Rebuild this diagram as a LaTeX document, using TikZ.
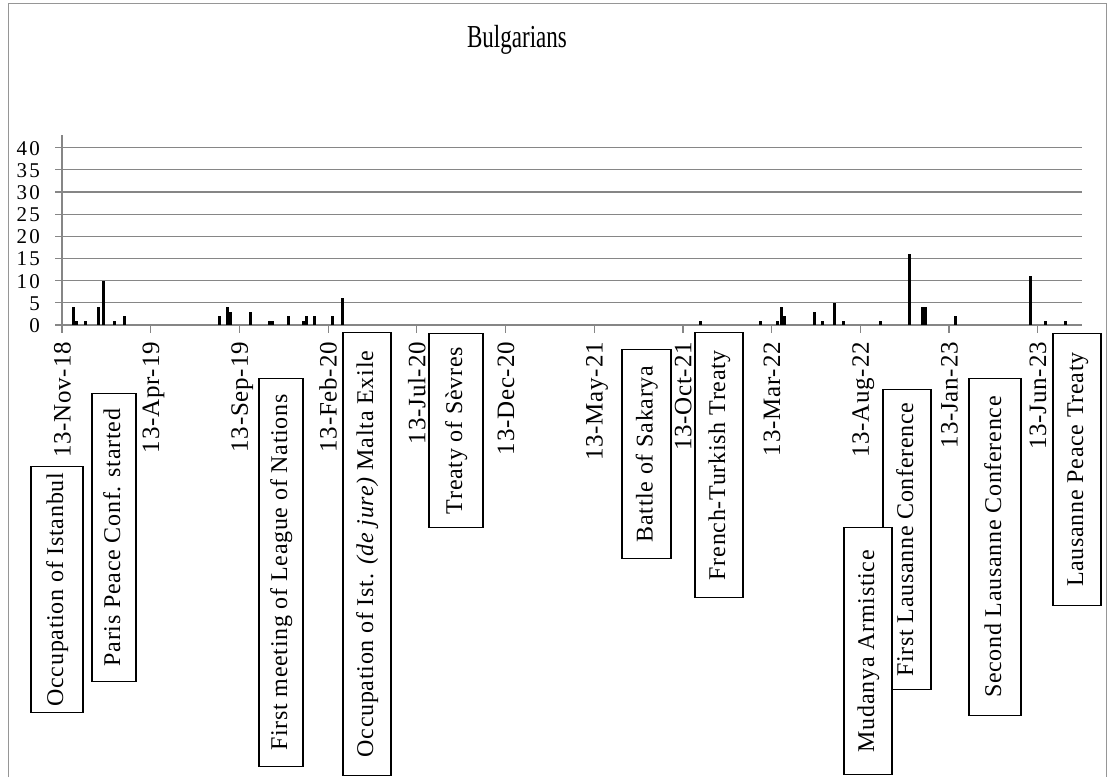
\documentclass[tikz,border=0pt]{standalone}
\usepackage{fontspec}
\usepackage{graphicx}
\setmainfont{Liberation Serif}[LetterSpace=3]
\definecolor{gridgray}{RGB}{134,134,134}
\definecolor{framegray}{RGB}{150,150,150}
\begin{document}
\begin{tikzpicture}[
  x=1pt, y=-1pt,
  font=\fontsize{25}{25}\selectfont,
  grid/.style={draw=gridgray, line width=1.2pt},
  datelabel/.style={rotate=90, anchor=east, inner sep=0pt, text height=16pt, text depth=5pt},
  vallabel/.style={anchor=east, inner sep=0pt, text height=15pt, text depth=0pt,
    font=\fontsize{21}{21}\selectfont\addfontfeature{LetterSpace=10}},
  event/.style={rectangle, draw, fill=white, line width=1.2pt, rotate=90, anchor=east, inner sep=0pt,
    minimum height=48pt, text height=17pt, text depth=5pt, font=\fontsize{24}{24}\selectfont}
]
\useasboundingbox (0,0) rectangle (1109,777);
\draw[framegray, line width=1pt] (8,777) -- (8,3) -- (1106,3) -- (1106,777);

\node[font=\fontsize{32}{32}\selectfont\addfontfeature{LetterSpace=0}] (title) at (517,40) {\scalebox{0.72}[1]{Bulgarians}};

% Grid and value axis
\foreach \v in {0,5,...,40} {
  \draw[grid] (55,{325-4.434*\v}) -- (1082,{325-4.434*\v});
  \node[vallabel] (val\v) at (40,{325-4.434*\v}) {\v};
}
\draw[grid] (62,135) -- (62,325);

% Date axis
\foreach \d [count=\i from 0] in {13-Nov-18,13-Apr-19,13-Sep-19,13-Feb-20,13-Jul-20,13-Dec-20,
    13-May-21,13-Oct-21,13-Mar-22,13-Aug-22,13-Jan-23,13-Jun-23} {
  \draw[grid] ({62+88.7*\i},325) -- ({62+88.7*\i},333);
  \node[datelabel] (date\i) at ({65+88.7*\i},342) {\d};
}

% Bars
\foreach \x/\v in {73.5/4, 76.5/1, 85.5/1, 98/4, 103.3/10, 114.7/1, 124.7/2,
    219.3/2, 227.8/4, 230.5/3, 250.5/3, 269.3/1, 272.7/1, 288.8/2, 303.5/1, 306.5/2,
    314.8/2, 332.8/2, 342.3/6,
    700.7/1, 760.7/1, 777.5/1, 781.3/4, 784/2, 814/3, 822/1, 834/5, 843.3/1, 880/1,
    909.7/16, 922/4, 925/4, 955.3/2, 1030.7/11, 1045.3/1, 1065.3/1}
  \fill ({\x-1.5},325) rectangle ({\x+1.5},{325-4.434*\v});

% Events
\node[event, minimum width=246pt, minimum height=52pt] (istanbul) at (57,466) {Occupation of Istanbul};
\node[event, minimum width=288pt, minimum height=44pt] (paris) at (114,393) {Paris Peace Conf. started};
\node[event, minimum width=388pt, minimum height=44pt] (league) at (281,378) {First meeting of League of Nations};
\node[event, minimum width=443pt] (malta) at (367,332) {Occupation of Ist. \textit{(de jure)} Malta Exile};
\node[event, minimum width=194pt, minimum height=54pt] (sevres) at (456,333) {Treaty of Sèvres};
\node[event, minimum width=209pt, minimum height=49pt] (sakarya) at (646.5,349) {Battle of Sakarya};
\node[event, minimum width=265pt] (french) at (719,332) {French-Turkish Treaty};
\node[event, minimum width=300pt] (lausanne1) at (907,389) {First Lausanne Conference};
\node[event, minimum width=247pt] (mudanya) at (868,527) {Mudanya Armistice};
\node[event, minimum width=337pt, minimum height=52pt] (lausanne2) at (995,378) {Second Lausanne Conference};
\node[event, minimum width=272pt] (peace) at (1077,333) {Lausanne Peace Treaty};
\end{tikzpicture}
\end{document}
